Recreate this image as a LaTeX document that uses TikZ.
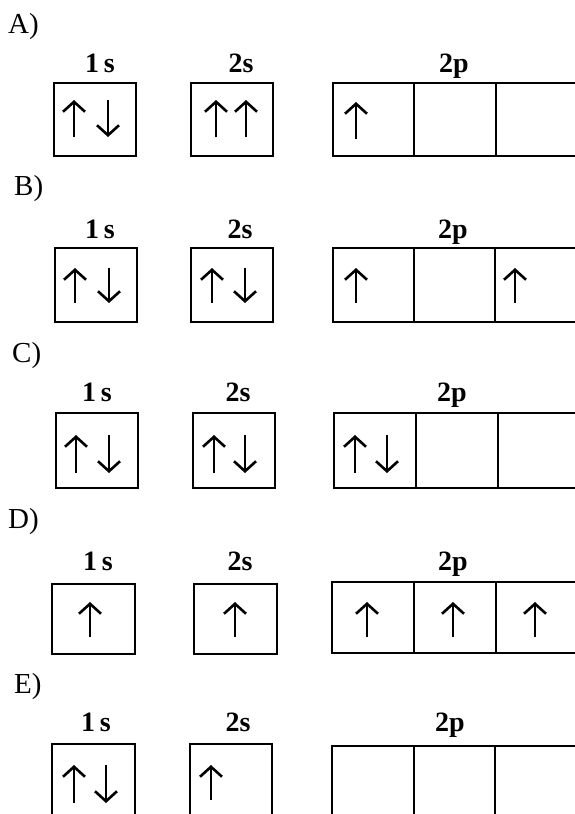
\documentclass[tikz,border=0pt]{standalone}
\usepackage{fontspec}
\setmainfont{Liberation Serif}
\usetikzlibrary{arrows.meta}
\begin{document}
\begin{tikzpicture}[x=1pt,y=-1pt,
  box/.style={line width=1.8pt},
  spin/.style={line width=2.6pt,-{Straight Barb[length=10pt,width=22pt,line width=2.6pt]}},
  letter/.style={anchor=base west,inner sep=0pt,font=\fontsize{29}{32}\selectfont},
  orb/.style={anchor=base,inner sep=0pt,font=\fontsize{28}{31}\selectfont\bfseries}]
\useasboundingbox[fill=white] (0,0) rectangle (575,814);
% ---------- A ----------
\node[letter] (la) at (8,33) {A)};
\node[orb] (a1s) at (100,72) {1\,s};
\node[orb] (a2s) at (241,72) {2s};
\node[orb] (a2p) at (454,72) {2p};
\draw[box] (54,83) rectangle (136,156);
\draw[box] (191,83) rectangle (273,156);
\draw[box] (333,83) rectangle (620,156);
\draw[box] (414,83) -- (414,156) (496,83) -- (496,156);
\draw[spin] (74,137) -- (74,100);
\draw[spin] (108,100) -- (108,137);
\draw[spin] (216,137) -- (216,100);
\draw[spin] (246,137) -- (246,100);
\draw[spin] (356,139) -- (356,102);
% ---------- B ----------
\node[letter] (lb) at (14,195) {B)};
\node[orb] (b1s) at (100,238) {1\,s};
\node[orb] (b2s) at (240,238) {2s};
\node[orb] (b2p) at (453,238) {2p};
\draw[box] (55,248) rectangle (137,322);
\draw[box] (191,248) rectangle (273,322);
\draw[box] (333,248) rectangle (620,322);
\draw[box] (414,248) -- (414,322) (495,248) -- (495,322);
\draw[spin] (75,303) -- (75,268);
\draw[spin] (109,268) -- (109,303);
\draw[spin] (212,303) -- (212,268);
\draw[spin] (245,268) -- (245,303);
\draw[spin] (356,303) -- (356,268);
\draw[spin] (515,303) -- (515,268);
% ---------- C ----------
\node[letter] (lc) at (12,362) {C)};
\node[orb] (c1s) at (97,401) {1\,s};
\node[orb] (c2s) at (238,401) {2s};
\node[orb] (c2p) at (452,401) {2p};
\draw[box] (56,413) rectangle (138,488);
\draw[box] (193,413) rectangle (275,488);
\draw[box] (334,413) rectangle (620,488);
\draw[box] (416,413) -- (416,488) (498,413) -- (498,488);
\draw[spin] (76,473) -- (76,435);
\draw[spin] (109,435) -- (109,473);
\draw[spin] (214,473) -- (214,435);
\draw[spin] (245,435) -- (245,473);
\draw[spin] (355,473) -- (355,435);
\draw[spin] (387,435) -- (387,473);
% ---------- D ----------
\node[letter] (ld) at (8,528) {D)};
\node[orb] (d1s) at (98,570) {1\,s};
\node[orb] (d2s) at (240,570) {2s};
\node[orb] (d2p) at (453,570) {2p};
\draw[box] (52,584) rectangle (135,654);
\draw[box] (194,584) rectangle (277,654);
\draw[box] (332,582) rectangle (620,653);
\draw[box] (414,582) -- (414,653) (496,582) -- (496,653);
\draw[spin] (90,637) -- (90,602);
\draw[spin] (235,637) -- (235,602);
\draw[spin] (367,637) -- (367,602);
\draw[spin] (453,637) -- (453,602);
\draw[spin] (535,637) -- (535,602);
% ---------- E ----------
\node[letter] (le) at (14,693) {E)};
\node[orb] (e1s) at (96,731) {1\,s};
\node[orb] (e2s) at (238,731) {2s};
\node[orb] (e2p) at (450,731) {2p};
\draw[box] (52,744) rectangle (135,860);
\draw[box] (190,744) rectangle (272,860);
\draw[box] (332,746) rectangle (620,860);
\draw[box] (414,746) -- (414,860) (495,746) -- (495,860);
\draw[spin] (74,803) -- (74,765);
\draw[spin] (106,765) -- (106,803);
\draw[spin] (211,800) -- (211,765);
\end{tikzpicture}
\end{document}
